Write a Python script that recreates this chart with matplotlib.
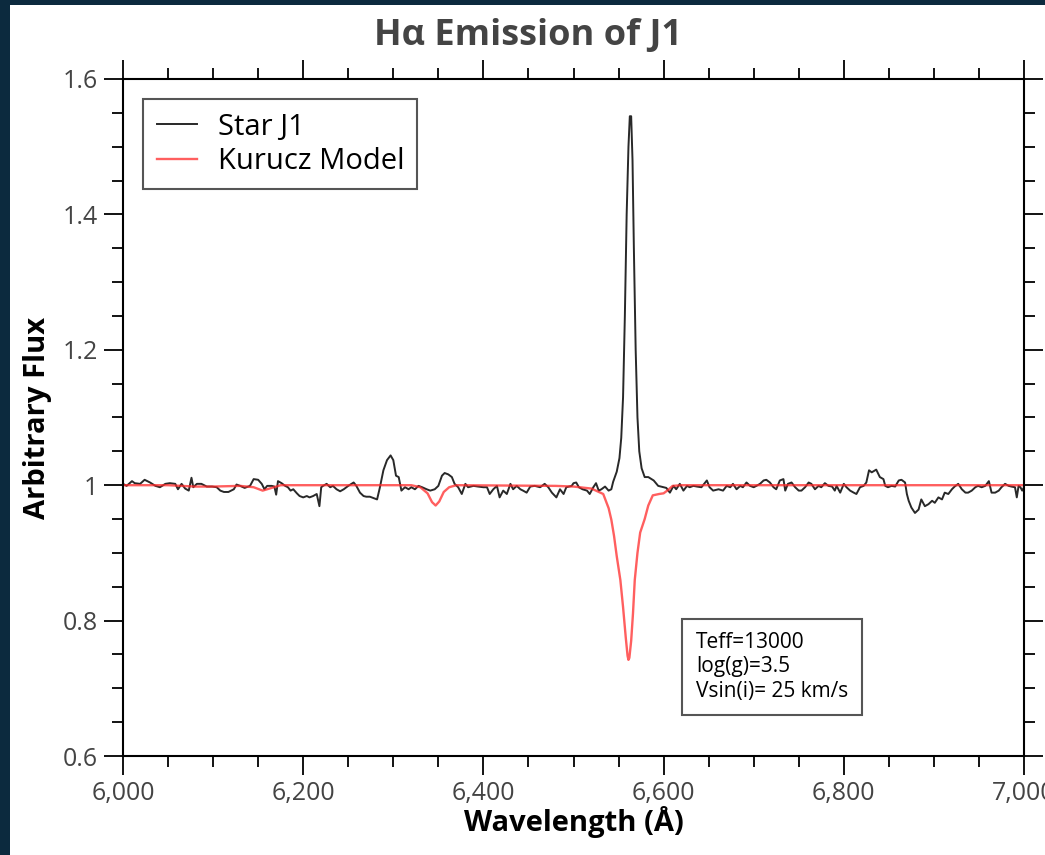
import matplotlib
matplotlib.use('Agg')
import matplotlib.pyplot as plt
from matplotlib.patches import Rectangle
from matplotlib.ticker import MultipleLocator, FuncFormatter

plt.rcParams['font.family'] = ['Open Sans', 'DejaVu Sans']

# observed spectrum of J1 (wavelength in Angstrom, arbitrary flux)
star_wave = [
    6000, 6004, 6010, 6013, 6019, 6024, 6030, 6036, 6041, 6047, 6052, 6058, 6061, 6065, 6069,
    6073, 6076, 6078, 6082, 6087, 6093, 6099, 6104, 6108, 6112, 6117, 6123, 6126, 6130, 6135,
    6141, 6145, 6150, 6154, 6157, 6160, 6165, 6168, 6170, 6172, 6176, 6180, 6183, 6186, 6189,
    6193, 6196, 6200, 6204, 6207, 6211, 6215, 6218, 6220, 6222, 6226, 6230, 6233, 6237, 6241,
    6245, 6250, 6256, 6259, 6263, 6267, 6270, 6274, 6278, 6282, 6285, 6289, 6293, 6297, 6300,
    6303, 6306, 6309, 6313, 6317, 6320, 6324, 6328, 6332, 6337, 6341, 6346, 6350, 6354, 6357,
    6361, 6365, 6368, 6372, 6376, 6380, 6383, 6389, 6394, 6400, 6404, 6407, 6411, 6415, 6418,
    6422, 6426, 6430, 6433, 6437, 6441, 6444, 6448, 6452, 6457, 6463, 6468, 6472, 6476, 6481,
    6485, 6489, 6492, 6498, 6500, 6503, 6506, 6510, 6515, 6518, 6522, 6525, 6528, 6531, 6535,
    6539, 6542, 6544, 6548, 6551, 6553, 6555, 6557, 6559, 6561, 6562.5, 6564, 6565.5, 6567, 6569,
    6571, 6573, 6575.6, 6579, 6583, 6589, 6594, 6600, 6603, 6607, 6611, 6614, 6618, 6622, 6626,
    6629, 6633, 6637, 6642, 6648, 6651, 6655, 6661, 6666, 6670, 6674, 6677, 6681, 6685, 6688,
    6692, 6696, 6700, 6703, 6707, 6711, 6714, 6718, 6722, 6725, 6729, 6733, 6735, 6738, 6742,
    6746, 6750, 6753, 6757, 6761, 6764, 6768, 6772, 6775, 6779, 6783, 6787, 6790, 6792, 6796,
    6800, 6803, 6807, 6811, 6814, 6818, 6822, 6825, 6828, 6831, 6836, 6840, 6844, 6846, 6849,
    6853, 6857, 6861, 6864, 6868, 6870, 6872, 6875, 6879, 6883, 6886, 6890, 6894, 6898, 6901,
    6905, 6909, 6912, 6916, 6920, 6923, 6927, 6931, 6935, 6938, 6942, 6946, 6949, 6953, 6957,
    6961, 6964, 6968, 6972, 6975, 6979, 6983, 6986, 6990, 6992, 6994, 6996, 6998, 7000,
]
star_flux = [
    1.002, 0.999, 1.006, 1.003, 1.002, 1.008, 1.004, 0.999, 0.997, 1.002, 1.003, 1.002, 0.994, 1.002, 0.995,
    0.992, 1.011, 0.997, 1.002, 1.002, 0.998, 0.998, 0.997, 0.992, 0.990, 0.990, 0.994, 1.001, 0.999, 0.996,
    0.999, 1.009, 1.008, 1.002, 0.994, 0.999, 0.999, 0.998, 0.986, 1.006, 1.003, 0.999, 0.997, 0.992, 0.994,
    0.988, 0.984, 0.982, 0.984, 0.982, 0.984, 0.987, 0.969, 0.997, 0.999, 1.002, 0.997, 0.999, 0.994, 0.991,
    0.994, 0.999, 1.004, 0.999, 0.989, 0.984, 0.983, 0.983, 0.981, 0.979, 0.996, 1.022, 1.037, 1.044, 1.037,
    1.014, 1.012, 0.992, 0.997, 0.994, 0.997, 0.994, 0.999, 0.997, 0.994, 0.992, 0.994, 0.999, 1.014, 1.018,
    1.016, 1.012, 1.002, 0.997, 0.987, 1.002, 0.997, 0.999, 0.998, 0.997, 0.997, 0.987, 0.994, 0.999, 0.982,
    0.992, 0.987, 1.002, 0.994, 0.999, 0.994, 0.992, 0.989, 0.998, 0.999, 0.997, 1.002, 0.997, 0.989, 0.982,
    0.994, 0.987, 0.997, 0.999, 1.003, 1.004, 0.997, 0.994, 0.992, 0.987, 0.997, 1.003, 0.992, 0.994, 0.998,
    0.992, 0.994, 1.005, 1.020, 1.040, 1.070, 1.130, 1.250, 1.400, 1.500, 1.545, 1.545, 1.480, 1.350, 1.200,
    1.100, 1.050, 1.025, 1.012, 1.012, 1.007, 0.999, 0.997, 0.996, 0.989, 0.999, 0.994, 1.002, 0.992, 0.999,
    0.997, 0.999, 0.998, 0.997, 1.007, 0.997, 0.992, 0.994, 0.992, 0.999, 0.997, 1.002, 0.994, 0.999, 0.997,
    1.004, 0.999, 0.997, 0.999, 1.002, 1.007, 1.008, 1.004, 0.997, 0.994, 1.007, 1.009, 0.992, 1.002, 1.004,
    0.997, 0.992, 0.992, 0.997, 1.004, 1.002, 0.994, 0.999, 0.997, 1.003, 0.999, 0.998, 0.992, 0.999, 0.989,
    1.002, 0.997, 0.992, 0.989, 0.987, 0.997, 0.999, 1.004, 1.022, 1.019, 1.023, 1.012, 1.009, 0.999, 0.997,
    0.999, 0.998, 1.007, 1.008, 1.004, 0.987, 0.977, 0.967, 0.959, 0.964, 0.979, 0.969, 0.972, 0.977, 0.974,
    0.982, 0.979, 0.989, 0.987, 0.994, 0.998, 1.002, 0.994, 0.989, 0.989, 0.992, 0.997, 0.999, 0.997, 0.999,
    1.006, 0.989, 0.989, 0.992, 0.997, 1.002, 0.999, 0.998, 0.997, 0.982, 0.999, 0.997, 0.992, 0.997,
]

# Kurucz model spectrum
model_wave = [
    6000, 6050, 6080, 6100, 6130, 6145, 6155, 6165, 6175, 6320, 6330, 6338, 6343, 6347, 6351,
    6356, 6362, 6370, 6480, 6500, 6520, 6533, 6539, 6542, 6545, 6548, 6552, 6555, 6558, 6560,
    6561, 6562, 6564, 6566, 6568, 6571, 6574, 6579, 6583, 6588, 6595, 6600, 6605, 6610, 6620,
    7000,
]
model_flux = [
    1.000, 1.000, 0.998, 0.998, 0.999, 0.997, 0.992, 0.996, 1.000, 1.000, 0.997, 0.988, 0.975, 0.970, 0.976,
    0.990, 0.997, 1.000, 0.999, 0.998, 0.995, 0.987, 0.966, 0.949, 0.925, 0.895, 0.860, 0.820, 0.775, 0.748,
    0.742, 0.745, 0.770, 0.810, 0.860, 0.900, 0.930, 0.950, 0.970, 0.985, 0.987, 0.988, 0.993, 0.999, 1.000,
    1.000,
]

fig = plt.figure(figsize=(10.45, 8.55), dpi=100)
fig.patch.set_facecolor('#0c2a3e')
fig.patches.append(Rectangle((10 / 1045, 0), 1, 850 / 855, transform=fig.transFigure,
                             facecolor='white', edgecolor='none', zorder=-10))

ax = fig.add_axes([123 / 1045, 99 / 855, 901 / 1045, 677 / 855])
ax.set_facecolor('white')

ax.plot(star_wave, star_flux, color='#111111', lw=1.4, alpha=0.9, label='Star J1')
ax.plot(model_wave, model_flux, color='#ff2a2a', lw=1.7, alpha=0.75, label='Kurucz Model')

ax.set_xlim(6000, 7000)
ax.set_ylim(0.6, 1.6)
ax.xaxis.set_major_locator(MultipleLocator(200))
ax.xaxis.set_minor_locator(MultipleLocator(50))
ax.yaxis.set_major_locator(MultipleLocator(0.2))
ax.yaxis.set_minor_locator(MultipleLocator(0.05))
ax.xaxis.set_major_formatter(FuncFormatter(lambda v, p: f'{int(round(v)):,}'))
ax.yaxis.set_major_formatter(FuncFormatter(lambda v, p: '1' if abs(v - 1) < 1e-6 else f'{v:.1f}'))

for s in ax.spines.values():
    s.set_linewidth(1.5)
ax.tick_params(which='both', direction='out', top=True, right=True, width=1.3,
               labelsize=18, labelcolor='#444444', pad=4)
ax.tick_params(which='major', length=14)
ax.tick_params(which='minor', length=8)

ax.set_xlabel('Wavelength (Å)', fontsize=21, fontweight='bold', labelpad=0)
ax.set_ylabel('Arbitrary Flux', fontsize=21, fontweight='bold', labelpad=8)
fig.text(528 / 1045, 1 - 36 / 855, 'Hα Emission of J1', ha='center', va='center',
         fontsize=26, fontweight='bold', color='#444444')

leg = ax.legend(loc='upper left', bbox_to_anchor=(0.0, 1.0), borderaxespad=0.7, fontsize=21,
                fancybox=False, edgecolor='#555555', framealpha=1,
                handlelength=1.4, borderpad=0.45, labelspacing=0.2, handletextpad=0.7)
leg.get_frame().set_linewidth(1.5)

ax.text(0.636, 0.183, 'Teff=13000\nlog(g)=3.5\nVsin(i)= 25 km/s', transform=ax.transAxes,
        fontsize=15, va='top', ha='left', linespacing=1.2,
        bbox=dict(boxstyle='square,pad=0.65', facecolor='white', edgecolor='#555555', linewidth=1.5))

fig.savefig('out.png', dpi=100, facecolor=fig.get_facecolor())
